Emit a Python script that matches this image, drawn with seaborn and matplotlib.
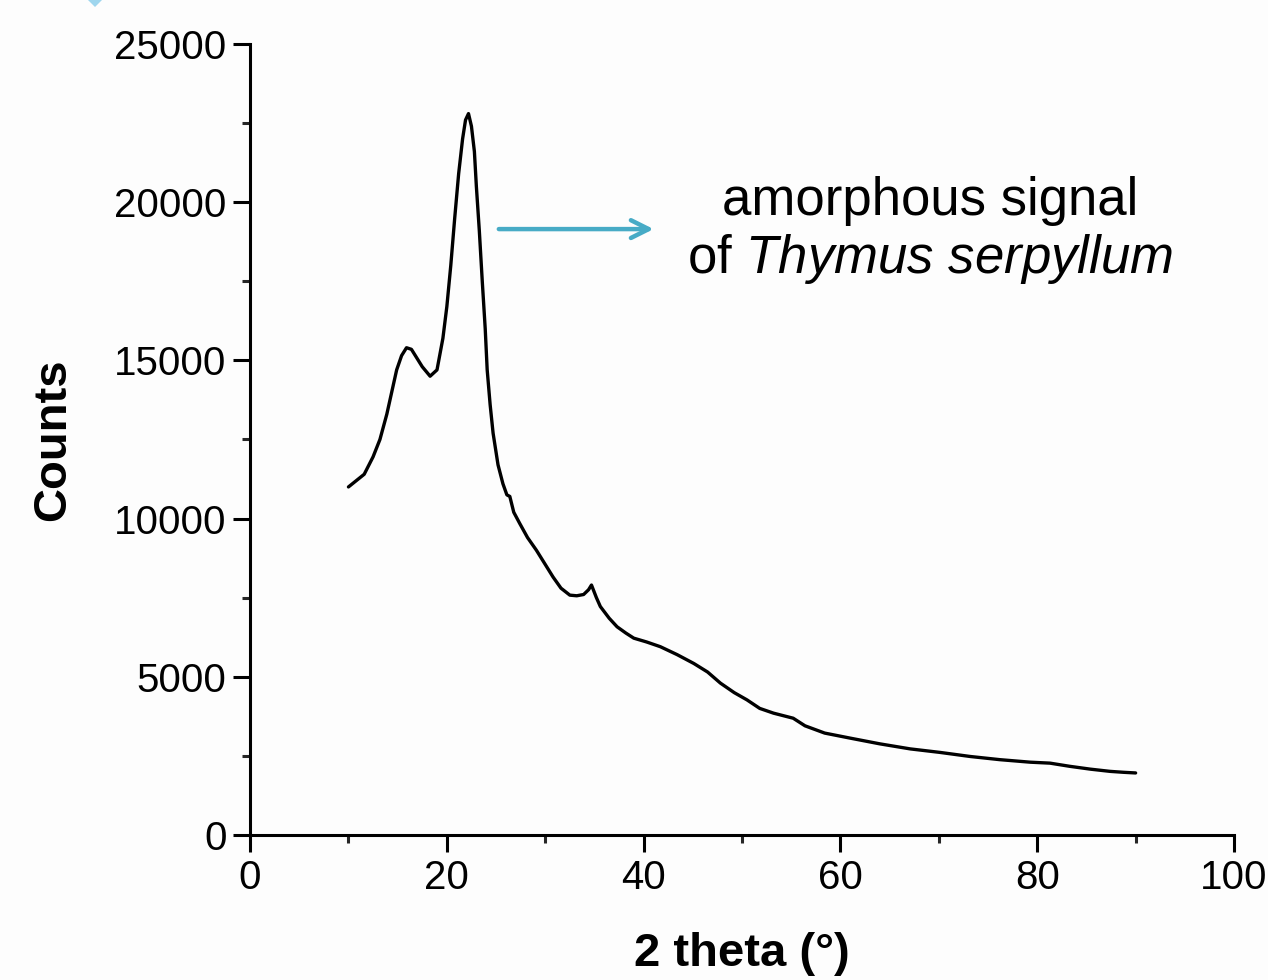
import pandas as pd
import seaborn as sns
import matplotlib.pyplot as plt
from matplotlib.patches import Polygon
from matplotlib.ticker import MultipleLocator

# XRD pattern
two_theta = [10.0, 10.8, 11.6, 12.5, 13.2, 13.9, 14.4, 14.9, 15.4, 15.9,
             16.4, 16.9, 17.5, 18.3, 19.0, 19.6, 20.0, 20.4, 20.8, 21.2,
             21.6, 21.9, 22.2, 22.5, 22.8, 23.0, 23.3, 23.6, 23.9, 24.1,
             24.4, 24.7, 25.2, 25.7, 26.1, 26.4, 26.8, 27.4, 28.2, 29.1,
             30.0, 30.8, 31.6, 32.5, 33.2, 33.9, 34.4, 34.7, 35.2, 35.6,
             36.5, 37.3, 38.2, 39.0, 40.3, 41.7, 43.4, 45.1, 46.5, 47.8,
             49.2, 50.5, 51.8, 53.2, 55.2, 56.4, 58.4, 61.0, 64.0, 67.1,
             70.1, 73.2, 76.2, 79.3, 81.3, 83.3, 85.4, 87.4, 88.8, 90.0]
counts = [11000, 11200, 11400, 11950, 12500, 13300, 14000, 14700, 15150, 15400,
          15350, 15100, 14800, 14500, 14700, 15700, 16700, 18000, 19500, 20900,
          22000, 22600, 22800, 22400, 21600, 20500, 19100, 17500, 16000, 14700,
          13600, 12700, 11700, 11100, 10750, 10700, 10200, 9850, 9400, 9000,
          8550, 8150, 7800, 7580, 7560, 7600, 7750, 7900, 7500, 7220,
          6850, 6580, 6380, 6220, 6100, 5950, 5700, 5420, 5150, 4800,
          4500, 4270, 4000, 3850, 3690, 3450, 3220, 3060, 2880, 2720,
          2610, 2480, 2380, 2300, 2270, 2170, 2080, 2010, 1980, 1960]

x_ticks = [0, 20, 40, 60, 80, 100]
y_ticks = [0, 5000, 10000, 15000, 20000, 25000]

df = pd.DataFrame({"two_theta": two_theta, "counts": counts})

sns.set_style("ticks")
plt.rcParams["font.family"] = ["Liberation Sans", "DejaVu Sans"]
plt.rcParams["text.color"] = "black"
plt.rcParams["axes.labelcolor"] = "black"
plt.rcParams["mathtext.fontset"] = "custom"
plt.rcParams["mathtext.rm"] = "Liberation Sans"
plt.rcParams["mathtext.it"] = "Liberation Sans:italic"

fig = plt.figure(figsize=(12.68, 9.8), dpi=100, facecolor="#fdfdfd")
ax = fig.add_axes([0.1972, 0.148, 0.776, 0.8071])
ax.set_facecolor("#fdfdfd")

sns.lineplot(data=df, x="two_theta", y="counts", color="black", linewidth=2.4,
             sort=False, estimator=None, ax=ax)

ax.set_xlim(0, 100)
ax.set_ylim(0, 25000)
ax.set_xticks(x_ticks)
ax.set_yticks(y_ticks)
ax.xaxis.set_minor_locator(MultipleLocator(10))
ax.yaxis.set_minor_locator(MultipleLocator(2500))

sns.despine(ax=ax)
for side in ["left", "bottom"]:
    ax.spines[side].set_linewidth(2.2)
    ax.spines[side].set_color("black")

ax.tick_params(which="major", direction="out", length=12, width=2.2,
               labelsize=29, pad=5, colors="black")
ax.tick_params(which="minor", direction="out", length=6, width=2.2)

ax.set_xlabel("2 theta (°)", fontsize=34, fontweight="bold")
ax.set_ylabel("Counts", fontsize=34, fontweight="bold")
ax.xaxis.set_label_coords(0.5, -0.123)
ax.yaxis.set_label_coords(-0.178, 0.5)

# annotation
ax.annotate("", xy=(41.3, 19150), xytext=(25.0, 19150),
            arrowprops=dict(arrowstyle="->", color="#47abc6", lw=3.2,
                            mutation_scale=32))
ax.text(69.1, 19100, "amorphous signal\nof $\\mathit{Thymus\\ serpyllum}$",
        ha="center", va="center", multialignment="center", fontsize=38,
        linespacing=1.15, color="black")

# small cut-off diamond tip at the top left corner
W, H = 1268, 980
tip = Polygon([(88 / W, 1.0), (102 / W, 1.0), (95 / W, 1 - 7 / H)],
              closed=True, transform=fig.transFigure, color="#9fd6ee", lw=0)
fig.add_artist(tip)

fig.savefig("out.png", dpi=100, facecolor=fig.get_facecolor())
